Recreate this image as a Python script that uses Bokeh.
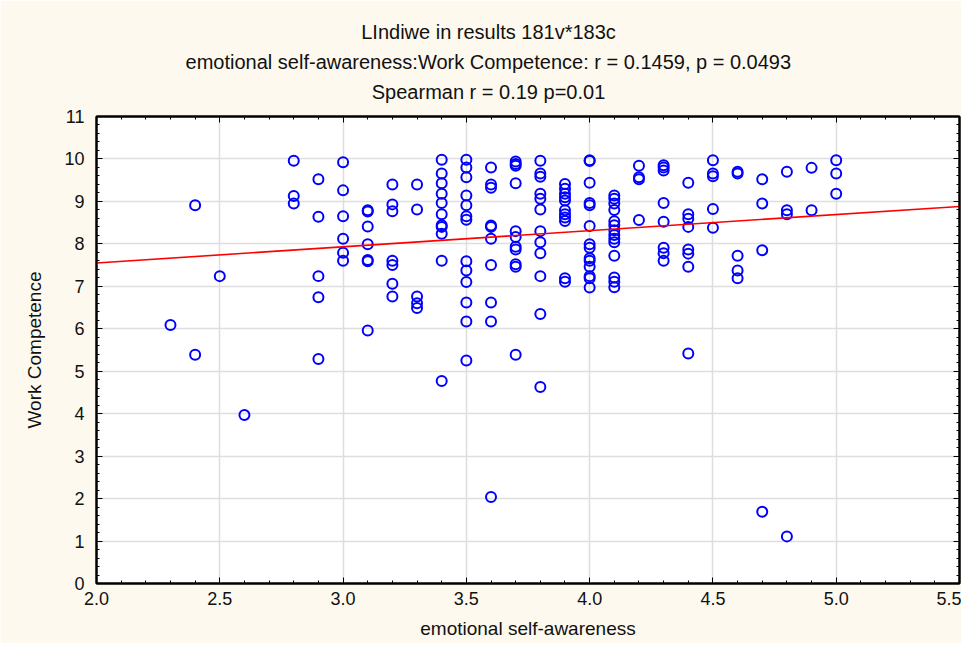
import numpy as np
from bokeh.plotting import figure
from bokeh.models import Title, LinearAxis, Range1d, FixedTicker, NumeralTickFormatter, CustomJSTickFormatter
from bokeh.embed import file_html
from bokeh.resources import INLINE

# ---- data ----
x_vals = [
    2.3,
    2.4, 2.4,
    2.5,
    2.6,
    2.8, 2.8, 2.8,
    2.9, 2.9, 2.9, 2.9, 2.9,
    3.0, 3.0, 3.0, 3.0, 3.0, 3.0,
    3.1, 3.1, 3.1, 3.1, 3.1, 3.1, 3.1,
    3.2, 3.2, 3.2, 3.2, 3.2, 3.2, 3.2,
    3.3, 3.3, 3.3, 3.3, 3.3,
    3.4, 3.4, 3.4, 3.4, 3.4, 3.4, 3.4, 3.4, 3.4, 3.4, 3.4,
    3.5, 3.5, 3.5, 3.5, 3.5, 3.5, 3.5, 3.5, 3.5, 3.5, 3.5, 3.5, 3.5,
    3.6, 3.6, 3.6, 3.6, 3.6, 3.6, 3.6, 3.6, 3.6, 3.6,
    3.7, 3.7, 3.7, 3.7, 3.7, 3.7, 3.7, 3.7, 3.7, 3.7, 3.7,
    3.8, 3.8, 3.8, 3.8, 3.8, 3.8, 3.8, 3.8, 3.8, 3.8, 3.8, 3.8,
    3.9, 3.9, 3.9, 3.9, 3.9, 3.9, 3.9, 3.9, 3.9, 3.9, 3.9,
    4.0, 4.0, 4.0, 4.0, 4.0, 4.0, 4.0, 4.0, 4.0, 4.0, 4.0, 4.0, 4.0, 4.0,
    4.1, 4.1, 4.1, 4.1, 4.1, 4.1, 4.1, 4.1, 4.1, 4.1, 4.1, 4.1, 4.1, 4.1,
    4.2, 4.2, 4.2, 4.2,
    4.3, 4.3, 4.3, 4.3, 4.3, 4.3, 4.3, 4.3,
    4.4, 4.4, 4.4, 4.4, 4.4, 4.4, 4.4, 4.4,
    4.5, 4.5, 4.5, 4.5, 4.5,
    4.6, 4.6, 4.6, 4.6, 4.6,
    4.7, 4.7, 4.7, 4.7,
    4.8, 4.8, 4.8, 4.8,
    4.9, 4.9,
    5.0, 5.0, 5.0,
]
y_vals = [
    6.09,
    8.91, 5.39,
    7.24,
    3.97,
    9.96, 9.13, 8.95,
    9.52, 8.64, 7.24, 6.74, 5.29,
    9.92, 9.26, 8.65, 8.12, 7.79, 7.60,
    8.79, 8.76, 8.41, 7.99, 7.62, 7.59, 5.96,
    9.40, 8.93, 8.77, 7.60, 7.50, 7.06, 6.76,
    9.40, 8.81, 6.76, 6.60, 6.49,
    9.98, 9.66, 9.43, 9.18, 8.96, 8.70, 8.44, 8.40, 8.24, 7.60, 4.77,
    9.98, 9.80, 9.57, 9.14, 8.91, 8.65, 8.57, 7.59, 7.37, 7.10, 6.62, 6.17, 5.25,
    9.80, 9.40, 9.32, 8.43, 8.40, 8.12, 7.50, 6.62, 6.17, 2.04,
    9.94, 9.88, 9.84, 9.43, 8.30, 8.16, 7.93, 7.87, 7.52, 7.46, 5.39,
    9.96, 9.66, 9.58, 9.18, 9.06, 8.81, 8.30, 8.04, 7.78, 7.24, 6.35, 4.63,
    9.41, 9.30, 9.18, 9.10, 9.02, 8.79, 8.70, 8.62, 8.54, 7.19, 7.11,
    9.97, 9.95, 9.44, 8.96, 8.91, 8.42, 7.99, 7.91, 7.66, 7.60, 7.46, 7.24, 7.19, 6.97,
    9.14, 9.06, 8.95, 8.80, 8.53, 8.44, 8.32, 8.21, 8.12, 8.04, 7.72, 7.21, 7.11, 6.98,
    9.84, 9.57, 9.52, 8.56,
    9.85, 9.80, 9.73, 8.96, 8.52, 7.91, 7.78, 7.60,
    9.44, 8.70, 8.59, 8.40, 7.87, 7.77, 7.46, 5.42,
    9.97, 9.66, 9.59, 8.82, 8.38,
    9.70, 9.66, 7.72, 7.37, 7.19,
    9.52, 8.95, 7.85, 1.69,
    9.70, 8.79, 8.70, 1.11,
    9.79, 8.79,
    9.97, 9.66, 9.18,
]
fit_intercept = 6.79
fit_slope = 0.38

title_lines = [
    "LIndiwe in results 181v*183c",
    "emotional self-awareness:Work Competence:   r = 0.1459, p = 0.0493",
    "Spearman r = 0.19 p=0.01",
]
x_label = "emotional self-awareness"
y_label = "Work Competence"
x_ticks = [2.0, 2.5, 3.0, 3.5, 4.0, 4.5, 5.0, 5.5]
y_ticks = [0, 1, 2, 3, 4, 5, 6, 7, 8, 9, 10, 11]
x_lo, x_hi = 2.0, 5.5
y_lo, y_hi = 0, 11

FONT = "Liberation Sans"
BG = "#fdf9ee"
TXT = "#111111"
TITLE_PX = 20
LEFT = 96           # frame left edge (px)
TITLE_CENTER = 488  # centre of the title block on the canvas (px)
TITLE_GAP = 11      # extra space between frame and the title block (px)

# Liberation Sans (Arial-metric) advance widths, 1/1000 em
_W = {' ': 278, ',': 278, '-': 333, '.': 278, ':': 278, '*': 389, '=': 584,
      'C': 722, 'I': 278, 'L': 556, 'S': 667, 'W': 944,
      'a': 556, 'c': 500, 'd': 556, 'e': 556, 'f': 278, 'i': 222, 'k': 500,
      'l': 222, 'm': 833, 'n': 556, 'o': 556, 'p': 556, 'r': 333, 's': 500,
      't': 278, 'u': 556, 'v': 500, 'w': 722}

def text_width(s, px):
    s = " ".join(s.split())  # SVG collapses runs of spaces
    return sum(_W.get(ch, 556) for ch in s) / 1000.0 * px

p = figure(width=961, height=643, x_range=Range1d(x_lo, x_hi), y_range=Range1d(y_lo, y_hi),
           output_backend="svg", toolbar_location=None,
           min_border_left=LEFT, min_border_right=2, min_border_top=116, min_border_bottom=60)
p.background_fill_color = "white"
p.border_fill_color = BG
p.outline_line_color = "black"
p.outline_line_width = 2

x_minor = [round(v, 2) for v in np.arange(x_lo, x_hi + 1e-9, 0.1)]
y_minor = [round(v, 2) for v in np.arange(y_lo, y_hi + 1e-9, 0.2)]
xt = FixedTicker(ticks=x_ticks, minor_ticks=x_minor)
yt = FixedTicker(ticks=y_ticks, minor_ticks=y_minor)

def style_axis(ax):
    ax.axis_line_color = "black"
    ax.axis_line_width = 2
    ax.major_tick_in = 6
    ax.major_tick_out = 0
    ax.minor_tick_in = 3
    ax.minor_tick_out = 0
    ax.major_tick_line_color = "black"
    ax.minor_tick_line_color = "black"
    ax.major_label_text_font = FONT
    ax.major_label_text_font_size = "18px"
    ax.major_label_text_color = TXT
    ax.axis_label_text_font = FONT
    ax.axis_label_text_font_size = "19px"
    ax.axis_label_text_font_style = "normal"
    ax.axis_label_text_color = TXT

p.xaxis.ticker = xt
p.yaxis.ticker = yt
p.xaxis.formatter = NumeralTickFormatter(format="0.0")
p.yaxis.formatter = NumeralTickFormatter(format="0")
p.xaxis.axis_label = x_label
p.yaxis.axis_label = y_label
for ax in (p.xaxis[0], p.yaxis[0]):
    style_axis(ax)
p.xaxis.major_label_standoff = 8
p.xaxis.axis_label_standoff = 10
p.yaxis.major_label_standoff = 12
p.yaxis.axis_label_standoff = 16

# mirrored inner ticks on top and right
for loc, tk in (("above", xt), ("right", yt)):
    ax = LinearAxis(ticker=tk, formatter=CustomJSTickFormatter(code="return ''"))
    style_axis(ax)
    ax.major_label_standoff = 0
    ax.major_label_text_color = None
    p.add_layout(ax, loc)

# invisible spacer axis that lifts the title block off the frame
spacer = LinearAxis(ticker=xt, formatter=CustomJSTickFormatter(code="return ''"))
spacer.axis_line_color = None
spacer.major_tick_line_color = None
spacer.minor_tick_line_color = None
spacer.major_label_text_color = None
spacer.major_tick_in = 0
spacer.minor_tick_in = 0
spacer.minor_tick_out = 0
spacer.major_tick_out = TITLE_GAP
spacer.major_label_standoff = 0
p.add_layout(spacer, "above")

p.xgrid.ticker = xt
p.ygrid.ticker = yt
p.xgrid.grid_line_color = "#dedede"
p.ygrid.grid_line_color = "#dedede"
p.xgrid.grid_line_width = 1.5
p.ygrid.grid_line_width = 1.5

p.scatter(x_vals, y_vals, marker="circle", size=10, fill_color=None,
          line_color="#0000ff", line_width=2)

fit_x = np.array([x_lo, x_hi])
fit_y = fit_intercept + fit_slope * fit_x
p.line(fit_x, fit_y, line_color="#ff0000", line_width=1.6)

# titles: first added sits closest to the frame
for txt in reversed(title_lines):
    off = TITLE_CENTER - LEFT - text_width(txt, TITLE_PX) / 2.0
    p.add_layout(Title(text=txt, align="left", offset=off, text_font=FONT,
                       text_font_size=f"{TITLE_PX}px", text_font_style="normal",
                       text_color=TXT, standoff=6), "above")

open("out.html", "w").write(file_html(p, INLINE))
